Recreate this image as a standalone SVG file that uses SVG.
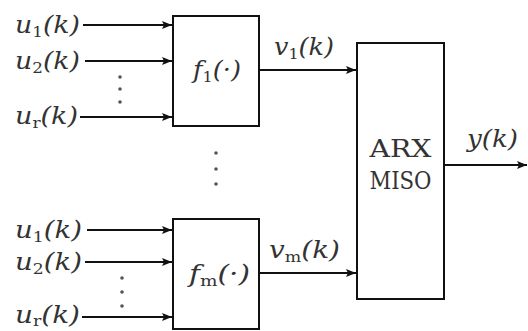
<svg xmlns="http://www.w3.org/2000/svg" width="528" height="331" viewBox="0 0 528 331">
<defs>
<marker id="ah" viewBox="0 0 10 8" refX="10" refY="4" markerWidth="10" markerHeight="8" markerUnits="userSpaceOnUse" orient="auto">
<path d="M0,0 L10,4 L0,8 L2,4 Z" fill="#111"/>
</marker>
<style>
.box{fill:#fff;stroke:#111;stroke-width:2}
.ln{stroke:#111;stroke-width:1.8;fill:none}
.ar{marker-end:url(#ah)}
.m{font-style:italic;font-size:24px;fill:#333}
.s{font-style:normal;font-size:15px}
.t{font-size:24px;fill:#333;text-anchor:middle}
.d{fill:#555}
</style>
</defs>
<rect width="528" height="331" fill="#fff"/>
<g id="connectors">
<line class="ln ar" x1="83" y1="25" x2="172" y2="25"/>
<line class="ln ar" x1="85" y1="61" x2="172" y2="61"/>
<line class="ln ar" x1="80" y1="117" x2="172" y2="117"/>
<line class="ln ar" x1="87" y1="230" x2="172" y2="230"/>
<line class="ln ar" x1="85" y1="262" x2="172" y2="262"/>
<line class="ln ar" x1="82" y1="317" x2="172" y2="317"/>
<line class="ln ar" x1="259" y1="70" x2="356" y2="70"/>
<line class="ln ar" x1="259" y1="273" x2="356" y2="273"/>
<line class="ln ar" x1="444" y1="165" x2="527" y2="165"/>
</g>
<g id="labels" font-family="DejaVu Serif, serif">
<text class="m" x="15" y="33" textLength="65" lengthAdjust="spacingAndGlyphs">u<tspan class="s" dy="4">1</tspan><tspan dy="-4">(k)</tspan></text>
<text class="m" x="15" y="69" textLength="65" lengthAdjust="spacingAndGlyphs">u<tspan class="s" dy="4">2</tspan><tspan dy="-4">(k)</tspan></text>
<text class="m" x="15" y="124" textLength="63" lengthAdjust="spacingAndGlyphs">u<tspan class="s" dy="4">r</tspan><tspan dy="-4">(k)</tspan></text>
<text class="m" x="15" y="238" textLength="67" lengthAdjust="spacingAndGlyphs">u<tspan class="s" dy="4">1</tspan><tspan dy="-4">(k)</tspan></text>
<text class="m" x="15" y="270" textLength="67" lengthAdjust="spacingAndGlyphs">u<tspan class="s" dy="4">2</tspan><tspan dy="-4">(k)</tspan></text>
<text class="m" x="15" y="323" textLength="65" lengthAdjust="spacingAndGlyphs">u<tspan class="s" dy="3">r</tspan><tspan dy="-3">(k)</tspan></text>
<text class="m" x="274" y="55" textLength="60" lengthAdjust="spacingAndGlyphs">v<tspan class="s" dy="4">1</tspan><tspan dy="-4">(k)</tspan></text>
<text class="m" x="269" y="258" textLength="71" lengthAdjust="spacingAndGlyphs">v<tspan class="s" dy="4">m</tspan><tspan dy="-4">(k)</tspan></text>
<text class="m" x="467" y="147" textLength="51" lengthAdjust="spacingAndGlyphs">y(k)</text>
</g>
<g id="dots">
<circle class="d" cx="120" cy="77" r="1.8"/><circle class="d" cx="120" cy="89" r="1.8"/><circle class="d" cx="120" cy="102" r="1.8"/>
<circle class="d" cx="216" cy="153" r="1.8"/><circle class="d" cx="216" cy="169" r="1.8"/><circle class="d" cx="216" cy="184" r="1.8"/>
<circle class="d" cx="122" cy="278" r="1.8"/><circle class="d" cx="122" cy="292" r="1.8"/><circle class="d" cx="122" cy="306" r="1.8"/>
</g>
<g id="f1" font-family="DejaVu Serif, serif">
<rect class="box" x="173" y="16" width="86" height="110"/>
<text class="m" x="193" y="78" textLength="48" lengthAdjust="spacingAndGlyphs">f<tspan class="s" dy="4">1</tspan><tspan dy="-4">(·)</tspan></text>
</g>
<g id="fm" font-family="DejaVu Serif, serif">
<rect class="box" x="173" y="219" width="86" height="110"/>
<text class="m" x="189" y="282" textLength="61" lengthAdjust="spacingAndGlyphs">f<tspan class="s" dy="4">m</tspan><tspan dy="-4">(·)</tspan></text>
</g>
<g id="arx" font-family="DejaVu Serif, serif">
<rect class="box" x="357" y="43" width="87" height="256"/>
<text class="t" x="400.5" y="157" textLength="62" lengthAdjust="spacingAndGlyphs">ARX</text>
<text class="t" x="400.5" y="189" textLength="62" lengthAdjust="spacingAndGlyphs">MISO</text>
</g>
</svg>
